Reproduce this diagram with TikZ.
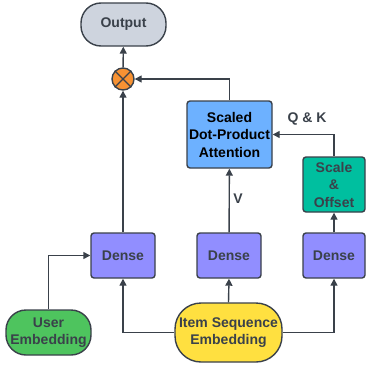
\documentclass[tikz,border=0pt]{standalone}
\usepackage{fontspec}
\setmainfont{Liberation Sans}
\usetikzlibrary{arrows.meta}
\definecolor{edgegray}{HTML}{3A414A}
\definecolor{outfill}{HTML}{CED4DE}
\definecolor{densefill}{HTML}{918EFF}
\definecolor{attfill}{HTML}{6DB1FF}
\definecolor{scalefill}{HTML}{00BF9F}
\definecolor{userfill}{HTML}{4EC45E}
\definecolor{itemfill}{HTML}{FFE040}
\definecolor{mulfill}{HTML}{F79233}
\tikzset{
  x=1pt, y=-1pt,
  base/.style={draw=edgegray, line width=1.4pt, align=center, inner sep=0pt,
    font=\fontsize{14}{17.5}\selectfont\bfseries, text=edgegray},
  box/.style={base, rounded corners=3pt},
  pill/.style={base, rounded corners=20pt},
  conn/.style={draw=edgegray, line width=1.4pt, -{Triangle[length=7pt,width=7pt]}},
  lbl/.style={font=\fontsize{14}{17}\selectfont\bfseries, text=edgegray, inner sep=0pt}
}
\begin{document}
\begin{tikzpicture}
\useasboundingbox (0,0) rectangle (366,364);
% output and product
\node[pill, fill=outfill, minimum width=85pt, minimum height=43pt] (out) at (123.5,24.5) {Output};
\node[circle, draw=edgegray, line width=1.4pt, fill=mulfill, minimum size=22pt, inner sep=0pt] (mul) at (123,79) {};
\draw[edgegray, line width=1.4pt] (mul.45) -- (mul.225) (mul.135) -- (mul.315);
% attention block
\node[box, fill=attfill, text=black, minimum width=85pt, minimum height=67pt] (att) at (229.5,134.5) {Scaled\\Dot-Product\\Attention};
\node[box, fill=scalefill, minimum width=62pt, minimum height=55pt] (sco) at (334,184.5) {Scale\\\&\\Offset};
% dense layers
\node[box, fill=densefill, minimum width=64pt, minimum height=45pt] (d1) at (123,255.5) {Dense};
\node[box, fill=densefill, minimum width=64pt, minimum height=45pt] (d2) at (229,255.5) {Dense};
\node[box, fill=densefill, minimum width=62pt, minimum height=45pt] (d3) at (334,255.5) {Dense};
% embeddings
\node[pill, fill=userfill, minimum width=85pt, minimum height=45pt] (user) at (48.5,332.5) {User\\Embedding};
\node[pill, fill=itemfill, text=edgegray, minimum width=107pt, minimum height=59pt, rounded corners=26pt] (item) at (228.5,332.5) {Item Sequence\\Embedding};
% connectors
\draw[conn] (mul) -- (out);
\draw[conn] (d1) -- (mul);
\draw[conn] (att.north) |- (mul);
\draw[conn] (sco.north) |- (att.east);
\draw[conn] (d2) -- (att);
\draw[conn] (d3) -- (sco);
\draw[conn] (user.north) |- (d1.west);
\draw[conn] (item.north) -- (d2.south);
\draw[conn] (item.west) -| (d1.south);
\draw[conn] (item.east) -| (d3.south);
% edge labels
\node[lbl] (qk) at (307,119) {Q \& K};
\node[lbl] (v) at (238,199) {V};
\end{tikzpicture}
\end{document}
